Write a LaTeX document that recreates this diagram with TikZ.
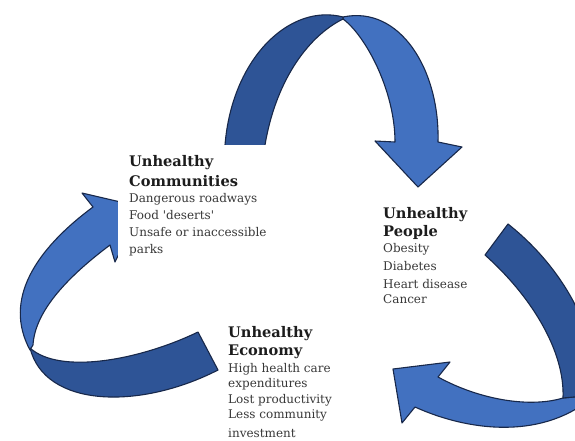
\documentclass[tikz,border=0pt]{standalone}
\usepackage{fontspec}
\setmainfont{DejaVu Serif}
\definecolor{bandDark}{RGB}{46,84,150}
\definecolor{bandLight}{RGB}{66,113,192}
\definecolor{bandEdge}{RGB}{24,40,74}
\definecolor{headInk}{RGB}{28,28,28}
\definecolor{bodyInk}{RGB}{56,56,56}
\tikzset{
  darkband/.style={fill=bandDark, draw=bandEdge, line width=1.1pt, line join=round},
  lightband/.style={fill=bandLight, draw=bandEdge, line width=1.1pt, line join=round},
  head/.style={anchor=base west, inner sep=0pt, text=headInk,
    font=\bfseries\fontsize{14.6}{17}\selectfont},
  body/.style={anchor=base west, inner sep=0pt, text=bodyInk,
    font=\fontsize{12}{14}\selectfont},
  cover/.style={fill=white, draw=none}
}
\begin{document}
\begin{tikzpicture}[x=1pt,y=-1pt]
\useasboundingbox (0,0) rectangle (575,440);
\begin{scope}
\clip (0,0) rectangle (575,440);
% upper ribbon: rises on the left, twists at the top, falls into its head
\draw[lightband] (343,17) .. controls (400,5) and (440,70) .. (438,142)
  -- (462,147) -- (418,187) -- (375,141) -- (395,142)
  .. controls (395,90) and (365,35) .. (343,19) -- cycle;
\draw[darkband] (225,160) -- (225,145) .. controls (232,58) and (290,3) .. (343,17)
  -- (343,19) .. controls (305,38) and (275,85) .. (265,145) -- (265,160) -- cycle;
% right ribbon: sweeps down the right side and turns back to the left
\draw[lightband] (563,398) .. controls (530,408) and (480,400) .. (438,377)
  -- (450,362) -- (393,369) -- (402,423) -- (415,407)
  .. controls (470,432) and (545,440) .. (595,395) -- cycle;
\draw[darkband] (485,255) -- (508,224) .. controls (560,265) and (600,330) .. (595,395)
  -- (563,398) .. controls (565,350) and (530,295) .. (485,255) -- cycle;
% left ribbon: runs left along the bottom, twists and climbs to its head
\draw[lightband] (30,350) .. controls (3,300) and (35,250) .. (93,207)
  -- (82,193) -- (142,207) -- (115,262) -- (110,245)
  .. controls (70,275) and (35,310) .. (33,345) -- cycle;
\draw[darkband] (198,332) -- (218,370) .. controls (140,410) and (45,408) .. (30,348)
  .. controls (60,375) and (140,360) .. (198,332) -- cycle;
\end{scope}
% white text panel of the communities block
\fill[cover] (118,145) rectangle (272,262);
% communities
\node[head] (c1) at (129,166) {Unhealthy};
\node[head] (c2) at (129,186) {Communities};
\node[body] (c3) at (129,202) {Dangerous roadways};
\node[body] (c4) at (129,219) {Food \textquotesingle deserts\textquotesingle};
\node[body] (c5) at (129,236) {Unsafe or inaccessible};
\node[body] (c6) at (129,253) {parks};
% people
\node[head] (p1) at (383,218) {Unhealthy};
\node[head] (p2) at (383,236) {People};
\node[body] (p3) at (383,252) {Obesity};
\node[body] (p4) at (383,270) {Diabetes};
\node[body] (p5) at (383,288) {Heart disease};
\node[body] (p6) at (383,303) {Cancer};
% economy
\node[head] (e1) at (228,337) {Unhealthy};
\node[head] (e2) at (228,355) {Economy};
\node[body] (e3) at (228,372) {High health care};
\node[body] (e4) at (228,387) {expenditures};
\node[body] (e5) at (228,403) {Lost productivity};
\node[body] (e6) at (228,418) {Less community};
\node[body] (e7) at (228,437) {investment};
\end{tikzpicture}
\end{document}
